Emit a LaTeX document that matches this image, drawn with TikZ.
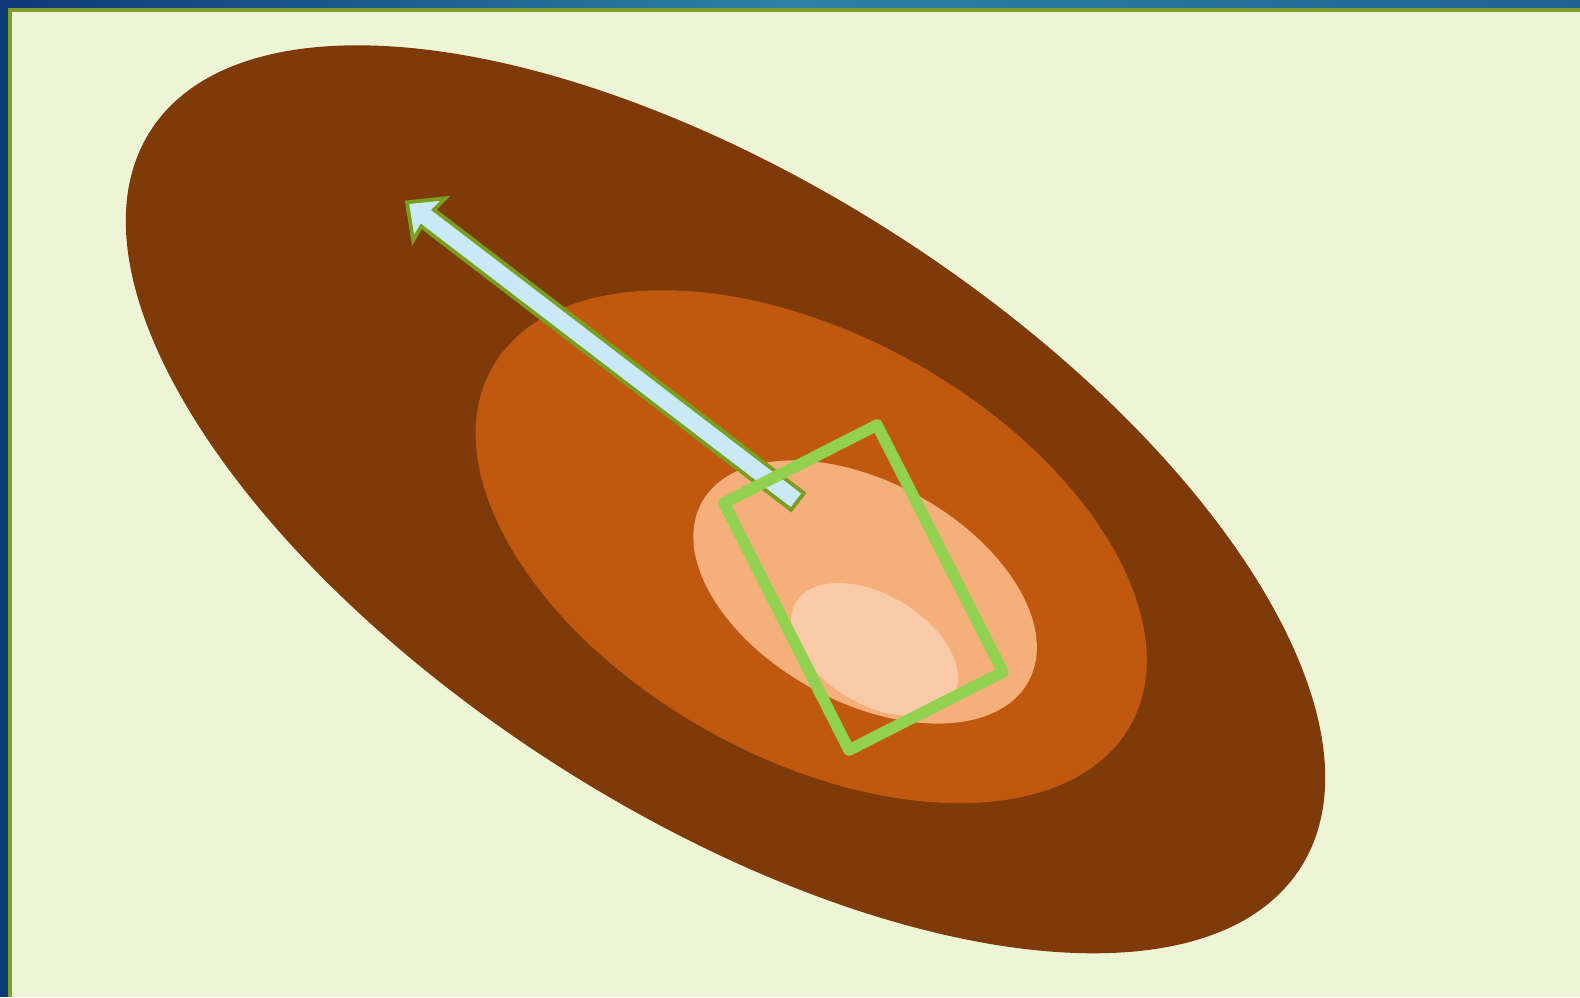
\documentclass[tikz,border=0pt]{standalone}
\usetikzlibrary{calc}
\definecolor{navy}{HTML}{0E3A77}
\definecolor{teal}{HTML}{2C82A6}
\definecolor{tealdark}{HTML}{1F6393}
\definecolor{frameg}{HTML}{7E9E27}
\definecolor{paper}{HTML}{EEF5D6}
\definecolor{brownA}{HTML}{7F3A09}
\definecolor{orangeB}{HTML}{C0590F}
\definecolor{peachC}{HTML}{F5AF7B}
\definecolor{peachD}{HTML}{F8CAA8}
\definecolor{arrowfill}{HTML}{C9E9F6}
\definecolor{arrowline}{HTML}{7A9E1F}
\definecolor{rectg}{HTML}{92D050}
\tikzset{
  blob/.style={draw=none},
  arrowshape/.style={fill=arrowfill, draw=arrowline, line width=3.8pt, line join=miter},
  framebox/.style={draw=rectg, line width=11.5pt, line join=round}
}
\begin{document}
\begin{tikzpicture}[x=1pt,y=-1pt]
\useasboundingbox (0,0) rectangle (1580,997);
% frame
\shade[left color=navy, right color=tealdark, middle color=teal] (0,0) rectangle (1580,8);
\fill[navy] (0,0) rectangle (8,997);
\fill[frameg] (8,8) rectangle (1580,12);
\fill[frameg] (8,8) rectangle (12,997);
\fill[paper] (12,12) rectangle (1580,997);
% ellipses
\fill[blob, brownA, rotate around={-32.66:(725.5,499.3)}] (725.5,499.3) ellipse [x radius=683pt, y radius=314.8pt];
\fill[blob, orangeB, rotate around={-29.2:(811.2,546.7)}] (811.2,546.7) ellipse [x radius=365.8pt, y radius=211pt];
\fill[blob, peachC, rotate around={-28.7:(865.1,592)}] (865.1,592) ellipse [x radius=186.3pt, y radius=110pt];
\begin{scope}
\clip[rotate around={-28.7:(865.1,592)}] (865.1,592) ellipse [x radius=186.3pt, y radius=110pt];
\fill[blob, peachD, rotate around={-31:(874.5,649.5)}] (874.5,649.5) ellipse [x radius=91.7pt, y radius=54.6pt];
\end{scope}
% arrow
\begin{scope}[shift={(797.5,501.5)}, rotate=142.54]
\coordinate (tailL) at (0,10.5);
\coordinate (tailR) at (0,-10.5);
\coordinate (neckL) at (466,10.5);
\coordinate (neckR) at (466,-10.5);
\coordinate (barbL) at (464,26.5);
\coordinate (barbR) at (464,-26.5);
\coordinate (tip) at (492,0);
\draw[arrowshape] (tailL) -- (neckL) -- (barbL) -- (tip) -- (barbR) -- (neckR) -- (tailR) -- cycle;
\end{scope}
% green frame
\coordinate (r1) at (877,425);
\coordinate (r2) at (1003,672);
\coordinate (r3) at (849,750);
\coordinate (r4) at (724,503);
\draw[framebox] (r1) -- (r2) -- (r3) -- (r4) -- cycle;
\end{tikzpicture}
\end{document}
